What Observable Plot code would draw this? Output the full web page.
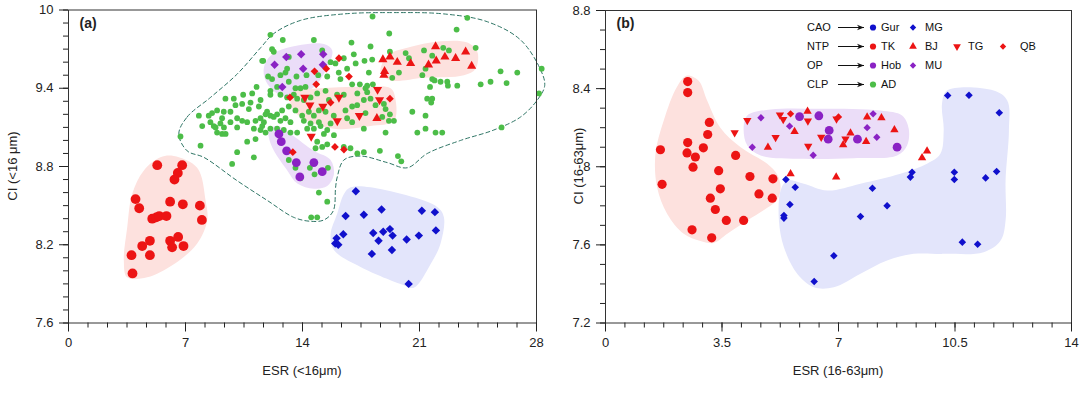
<!DOCTYPE html>
<html><head><meta charset="utf-8">
<script src="https://cdn.jsdelivr.net/npm/d3@7"></script>
<script src="https://cdn.jsdelivr.net/npm/@observablehq/plot@0.6"></script>
<style>
body{margin:0;background:#fff;}
#wrap{position:relative;width:1080px;height:393px;overflow:hidden;font-family:"Liberation Sans",Arial,Helvetica,sans-serif;color:#222;}
#wrap svg{position:absolute;top:0;overflow:visible;}
.lab{position:absolute;font-size:13px;white-space:nowrap;transform:translate(-50%,-50%);}
.rot{transform:translate(-50%,-50%) rotate(-90deg);}
</style></head><body><div id="wrap"></div>
<script>
// ---------------- Panel (a): <16 µm ----------------
const aXTicks = [0, 7, 14, 21, 28];
const aYTicks = [7.6, 8.2, 8.8, 9.4, 10];
const aTK = [[5.31,8.81],[6.80,8.81],[6.54,8.75],[6.34,8.70],[4.01,8.55],[4.23,8.48],[6.08,8.53],[6.84,8.51],[7.86,8.50],[7.98,8.39],[5.01,8.40],[5.25,8.41],[5.43,8.42],[5.86,8.42],[4.87,8.23],[4.41,8.19],[3.77,8.12],[4.87,8.12],[6.08,8.23],[6.56,8.26],[6.20,8.18],[6.88,8.19],[3.83,7.98]];
const aMG = [[17.19,8.61],[16.58,8.42],[17.67,8.43],[18.73,8.47],[21.14,8.46],[21.92,8.45],[16.44,8.28],[16.04,8.25],[15.96,8.21],[16.14,8.20],[18.23,8.29],[18.83,8.30],[19.23,8.32],[19.39,8.27],[18.55,8.23],[20.23,8.24],[20.96,8.27],[21.98,8.31],[18.15,8.13],[19.35,8.16],[20.35,7.90]];
const aHob = [[12.59,9.05],[12.73,8.99],[13.05,8.92],[13.63,8.83],[13.84,8.72],[14.68,8.83],[15.18,8.76]];
const aMU = [[12.33,9.58],[13.03,9.64],[13.92,9.66],[15.24,9.66],[15.22,9.58],[14.04,9.55],[12.79,9.41]];
const aBJ = [[18.81,9.62],[19.23,9.64],[19.67,9.60],[20.47,9.59],[18.91,9.53],[18.87,9.50],[21.54,9.58],[21.96,9.72],[22.00,9.61],[22.52,9.64],[23.16,9.63],[23.76,9.68],[24.12,9.57],[18.45,9.17]];
const aTG = [[18.49,9.39],[18.61,9.31],[17.40,9.19],[14.44,9.27],[15.22,9.26],[16.08,9.15],[16.18,9.33],[14.52,9.03],[14.14,9.33]];
const aQB = [[16.18,9.63],[15.42,9.55],[14.72,9.53],[14.82,9.43],[15.68,9.29],[13.42,8.91],[15.94,8.95],[16.48,8.93],[16.78,9.49],[19.23,9.32],[13.25,9.33]];
const aAD = [[12.08,9.81],[12.82,9.77],[14.68,9.77],[16.93,9.75],[12.18,9.70],[12.28,9.68],[15.18,9.69],[11.65,9.61],[13.18,9.64],[15.97,9.59],[16.47,9.63],[17.07,9.66],
[11.94,9.49],[12.18,9.47],[12.68,9.50],[13.08,9.55],[12.98,9.52],[13.64,9.49],[14.24,9.50],[14.94,9.50],[15.48,9.49],[15.68,9.60],[16.17,9.52],[16.67,9.55],[16.97,9.43],[16.27,9.47],[17.43,9.43],[17.87,9.42],[13.18,9.45],[12.48,9.41],[12.08,9.38],[11.25,9.41],[10.99,9.36],[10.45,9.35],[9.89,9.32],[9.39,9.32],
[13.58,9.40],[13.88,9.40],[14.18,9.41],[13.08,9.33],[12.68,9.35],[12.08,9.35],[11.49,9.31],[10.89,9.29],[10.39,9.28],[9.99,9.27],[9.69,9.22],[9.29,9.22],[8.89,9.23],[8.59,9.21],[8.39,9.19],[9.19,9.17],
[13.48,9.35],[13.68,9.32],[14.08,9.31],[14.48,9.33],[14.88,9.36],[15.38,9.38],[15.58,9.31],[16.07,9.35],[16.47,9.35],[17.27,9.27],[16.97,9.26],[17.67,9.31],
[10.79,9.24],[11.39,9.26],[11.88,9.22],[12.08,9.19],[12.48,9.20],[12.78,9.23],[13.18,9.26],[13.58,9.23],[13.98,9.19],[14.38,9.22],[14.68,9.19],[14.98,9.23],[15.38,9.22],[15.87,9.19],[16.57,9.23],[16.67,9.17],[16.97,9.14],[17.67,9.09],
[15.68,9.13],[14.98,9.14],[14.48,9.13],[14.08,9.15],[13.28,9.14],[12.98,9.17],[12.68,9.15],[12.28,9.18],[11.69,9.14],[11.19,9.15],[10.69,9.14],[10.39,9.15],[10.09,9.17],[9.69,9.14],[9.09,9.13],[8.69,9.11],[8.49,9.14],[8.00,9.11],[7.80,9.19],[8.89,9.06],[9.19,9.05],
[11.09,9.09],[11.49,9.08],[11.79,9.06],[12.08,9.09],[12.48,9.09],[12.88,9.08],[13.28,9.06],[13.68,9.06],[14.28,9.09],[14.68,9.09],[15.08,9.11],[15.48,9.08],[15.28,9.05],[15.88,9.04],
[14.88,8.99],[15.18,8.95],[15.48,8.97],[14.78,8.94],[16.47,8.95],[16.87,8.94],[17.67,8.91],[10.69,8.99],[11.19,9.01],[7.90,8.96],[10.09,8.91],[11.09,8.87],[9.79,8.82],[6.70,9.03],
[18.19,9.95],[23.86,9.94],[23.22,9.85],[19.19,9.82],[18.07,9.72],[19.23,9.68],[20.17,9.67],[21.27,9.69],[18.17,9.62],[20.37,9.63],[21.76,9.65],[22.42,9.71],[22.76,9.69],[24.36,9.71],
[17.18,9.59],[17.97,9.52],[19.77,9.52],[19.37,9.48],[21.17,9.50],[21.36,9.55],[21.76,9.47],[21.90,9.46],[22.26,9.45],[22.66,9.45],[22.70,9.42],[23.26,9.42],[21.63,9.41],[24.66,9.43],[25.25,9.45],[25.85,9.53],[26.21,9.44],[26.85,9.52],
[18.21,9.43],[17.77,9.40],[17.87,9.37],[17.28,9.36],[18.07,9.32],[18.37,9.27],[18.87,9.28],[18.97,9.24],[19.23,9.20],[19.17,9.15],[19.47,9.15],[18.77,9.18],[17.77,9.21],
[21.46,9.32],[21.76,9.32],[21.70,9.29],[20.57,9.22],[21.36,9.19],[21.36,9.09],[20.87,9.06],[21.96,9.06],[22.36,9.06],[18.97,9.06],[25.91,9.10],
[17.28,8.90],[18.63,8.92],[19.71,8.88],[19.91,8.84],[28.31,9.55],[28.15,9.36],
[14.98,8.60],[15.48,8.53],[14.52,8.41],[14.88,8.41],[13.18,8.85],[13.58,8.79],[14.44,8.79],[14.72,8.74],[15.52,8.79],[13.88,8.71],
[11.59,9.61],[17.71,9.61],[8.80,9.10],[9.30,9.10],[9.40,9.05],[10.09,9.10],[11.59,9.11],[11.49,9.17],[11.79,9.20]];
// shaded regions (outlines) and the dashed AD envelope
const aBlobTK = [[5.50,8.87],[6.30,8.88],[7.70,8.79],[8.20,8.54],[8.30,8.39],[7.70,8.21],[6.30,8.05],[4.71,7.95],[3.51,7.95],[3.31,8.08],[3.51,8.33],[3.81,8.59],[4.51,8.77]];
const aBlobMG = [[16.48,8.59],[16.88,8.64],[18.07,8.64],[22.06,8.49],[22.46,8.41],[22.26,8.21],[21.66,8.05],[20.66,7.87],[20.07,7.89],[17.47,8.03],[15.88,8.16],[15.68,8.28],[16.08,8.44]];
const aBlobMU = [[11.69,9.56],[12.09,9.65],[13.09,9.71],[15.28,9.74],[15.78,9.69],[15.48,9.56],[14.68,9.41],[13.48,9.33],[12.49,9.36],[11.79,9.46]];
const aBlobHob = [[11.99,9.08],[12.49,9.11],[13.29,9.05],[14.68,8.92],[15.68,8.85],[15.88,8.74],[15.48,8.65],[14.68,8.63],[13.69,8.67],[13.09,8.77],[12.29,8.92],[11.99,9.02]];
const aBlobBJ = [[18.67,9.52],[19.07,9.65],[20.27,9.71],[22.26,9.76],[23.86,9.75],[24.46,9.68],[24.36,9.55],[23.66,9.50],[21.26,9.48],[19.27,9.46]];
const aBlobTG = [[13.48,9.37],[15.08,9.40],[17.47,9.41],[19.27,9.40],[19.57,9.31],[19.47,9.15],[18.07,9.11],[15.88,9.09],[13.88,9.18],[13.29,9.28]];
const aEnvelope = [[6.60,9.05],[7.10,9.18],[8.50,9.33],[10.10,9.51],[11.49,9.71],[12.29,9.82],[13.88,9.92],[16.48,9.97],[19.47,9.98],[22.46,9.97],[25.06,9.91],[27.05,9.77],[28.25,9.54],[28.49,9.42],[28.05,9.31],[27.05,9.18],[25.45,9.08],[23.46,9.00],[21.47,8.90],[20.27,8.79],[19.07,8.83],[17.47,8.88],[16.48,8.85],[16.08,8.72],[15.98,8.64],[15.84,8.46],[15.28,8.39],[14.48,8.38],[13.48,8.41],[11.89,8.54],[10.10,8.69],[8.10,8.87],[7.10,8.92]];

// ---------------- Panel (b): 16-63 µm ----------------
const bXTicks = [0, 3.5, 7, 10.5, 14];
const bYTicks = [7.2, 7.6, 8, 8.4, 8.8];
const bTK = [[2.47,8.436],[2.47,8.38],[3.12,8.227],[3.07,8.165],[2.47,8.124],[1.65,8.087],[2.45,8.071],[2.94,8.097],[2.70,8.05],[2.63,7.998],[3.40,7.98],[3.91,8.058],[1.70,7.91],[4.34,7.95],[5.03,7.938],[3.45,7.887],[3.15,7.839],[4.61,7.861],[5.01,7.839],[3.30,7.781],[3.63,7.725],[4.15,7.725],[2.60,7.677],[3.19,7.636]];
const bMG = [[10.28,8.365],[10.92,8.366],[11.83,8.276],[5.42,7.935],[5.70,7.895],[5.54,7.807],[5.36,7.75],[5.36,7.737],[8.02,7.89],[8.46,7.80],[7.66,7.745],[9.21,7.972],[9.16,7.947],[10.48,7.972],[10.48,7.935],[11.42,7.943],[11.75,7.976],[10.72,7.614],[11.18,7.603],[6.86,7.544],[6.27,7.412]];
const bHob = [[5.83,8.257],[6.41,8.261],[6.72,8.186],[6.69,8.141],[7.57,8.141],[8.76,8.10]];
const bMU = [[4.67,8.251],[4.41,8.10],[5.53,8.208],[6.24,8.059],[8.04,8.271],[7.86,8.20],[8.15,8.151]];
const bBJ = [[6.07,8.284],[5.68,8.18],[4.88,8.10],[7.36,8.172],[7.14,8.112],[7.83,8.129],[7.86,8.254],[8.29,8.251],[8.68,8.189],[5.56,7.964],[6.93,7.947],[9.51,8.046],[9.66,8.08]];
const bTG = [[4.26,8.237],[3.88,8.174],[5.11,8.15],[5.24,8.266],[5.34,8.242],[6.08,8.235],[6.09,8.105],[6.48,8.151],[6.94,8.245],[7.21,8.143]];
const bQB = [[5.56,8.271],[7.00,8.255]];
const bBlobTK = [[2.45,8.467],[2.80,8.44],[3.05,8.34],[3.45,8.20],[4.06,8.10],[4.86,8.015],[5.16,7.96],[5.26,7.895],[5.16,7.83],[4.86,7.79],[4.26,7.725],[3.66,7.657],[3.25,7.61],[2.85,7.62],[2.35,7.657],[1.85,7.76],[1.55,7.895],[1.50,8.066],[1.75,8.237],[2.15,8.41]];
const bBlobOP = [[4.15,8.194],[4.26,8.262],[4.96,8.293],[6.46,8.297],[8.26,8.288],[8.91,8.262],[9.11,8.194],[9.06,8.109],[8.76,8.058],[7.46,8.044],[5.96,8.041],[4.66,8.058],[4.26,8.109]];
const bBlobMG = [[10.11,8.322],[10.26,8.39],[11.66,8.39],[12.07,8.339],[12.12,8.186],[12.02,7.93],[12.02,7.725],[11.87,7.622],[11.36,7.562],[10.16,7.554],[9.26,7.554],[8.46,7.52],[7.66,7.452],[6.86,7.383],[6.26,7.383],[5.76,7.452],[5.36,7.588],[5.21,7.725],[5.26,7.878],[5.46,7.93],[5.96,7.913],[6.66,7.878],[7.66,7.913],[8.86,7.964],[9.66,8.015],[10.06,8.066],[10.16,8.186]];

// legend content
const legendGroups = ["CAO", "NTP", "OP", "CLP"];
const legendItems = [
  [["Gur", "circle", "blue"], ["MG", "diamond", "blue"]],
  [["TK", "circle", "red"], ["BJ", "triangle", "red"], ["TG", "triangleDown", "red"], ["QB", "diamond", "red"]],
  [["Hob", "circle", "purple"], ["MU", "diamond", "purple"]],
  [["AD", "circle", "green"]]
];

// ---------------- styling ----------------
const C = {red: "#ec1414", blue: "#1010cc", purple: "#8a22c4", green: "#4cbd48"};
const BLOB = {red: "#fde1de", blue: "#e3e5fb", purple: "#ebddf8"};
const FONT = '"Liberation Sans", Arial, Helvetica, sans-serif';
const triangleDown = {draw(ctx, size) {
  const s3 = Math.sqrt(3), y = Math.sqrt(size / (s3 * 3));
  ctx.moveTo(0, 2 * y); ctx.lineTo(-s3 * y, -y); ctx.lineTo(s3 * y, -y); ctx.closePath();
}};
const SYM = {circle: "circle", diamond: "diamond2", triangle: "triangle", triangleDown};
const px = d => d[0], py = d => d[1];

const blob = (data, fill) => Plot.line(data, {x: px, y: py, curve: "catmull-rom-closed", fill, stroke: "none"});
const pts = (data, sym, color, r) => Plot.dot(data, {x: px, y: py, symbol: SYM[sym], r, fill: C[color], stroke: "none"});

function panel(cfg) {
  return Plot.plot({
    width: cfg.width, height: 393,
    marginLeft: cfg.ml, marginRight: cfg.mr, marginTop: cfg.mt, marginBottom: 393 - 322.5,
    x: {domain: cfg.xDomain},
    y: {domain: cfg.yDomain},
    style: {fontFamily: FONT, fontSize: "13px", color: "#222", background: "transparent", overflow: "visible"},
    marks: [
      ...cfg.marks,
      Plot.frame({stroke: "#333", strokeWidth: 1}),
      Plot.axisX({ticks: cfg.xMinor, tickSize: 5, tickFormat: () => "", label: null}),
      Plot.axisX({ticks: cfg.xTicks, tickSize: 9, tickPadding: 6, tickFormat: d => String(d), label: null}),
      Plot.axisY({ticks: cfg.yMinor, tickSize: 5, tickFormat: () => "", label: null}),
      Plot.axisY({ticks: cfg.yTicks, tickSize: 9, tickPadding: 6, tickFormat: d => String(d), label: null}),
      Plot.text([cfg.tag], {frameAnchor: "top-left", dx: 11, dy: 8, fontWeight: "bold", fontSize: 14, textAnchor: "start", lineAnchor: "top"})
    ]
  });
}

const wrap = document.getElementById("wrap");

const plotA = panel({
  width: 556, ml: 68, mr: 20, mt: 9.5,
  xDomain: [0, 28], yDomain: [7.6, 10],
  xTicks: aXTicks, yTicks: aYTicks,
  xMinor: d3.range(0, 25).map(i => i * 7 / 6),
  yMinor: d3.range(0, 25).map(i => 7.6 + i * 0.1),
  tag: "(a)",
  marks: [
    blob(aBlobTK, BLOB.red), blob(aBlobMG, BLOB.blue), blob(aBlobMU, BLOB.purple), blob(aBlobHob, BLOB.purple),
    blob(aBlobBJ, BLOB.red), blob(aBlobTG, BLOB.red),
    Plot.line(aEnvelope, {x: px, y: py, curve: "catmull-rom-closed", stroke: "#2e7565", strokeWidth: 1, strokeDasharray: "4,3"}),
    pts(aAD, "circle", "green", 2.9),
    pts(aTK, "circle", "red", 4.9),
    pts(aMG, "diamond", "blue", 3.8),
    pts(aHob, "circle", "purple", 4.4),
    pts(aMU, "diamond", "purple", 3.8),
    pts(aBJ, "triangle", "red", 3.4),
    pts(aTG, "triangleDown", "red", 3.4),
    pts(aQB, "diamond", "red", 3.5)
  ]
});
plotA.style.left = "0px";
wrap.appendChild(plotA);

const plotB = panel({
  width: 524, ml: 49, mr: 9, mt: 10,
  xDomain: [0, 14], yDomain: [7.2, 8.8],
  xTicks: bXTicks, yTicks: bYTicks,
  xMinor: d3.range(0, 25).map(i => i * 3.5 / 6),
  yMinor: d3.range(0, 17).map(i => 7.2 + i * 0.1),
  tag: "(b)",
  marks: [
    blob(bBlobTK, BLOB.red), blob(bBlobMG, BLOB.blue), blob(bBlobOP, BLOB.purple),
    pts(bTK, "circle", "red", 4.6),
    pts(bMG, "diamond", "blue", 3.4),
    pts(bHob, "circle", "purple", 4.4),
    pts(bMU, "diamond", "purple", 3.3),
    pts(bBJ, "triangle", "red", 3.1),
    pts(bTG, "triangleDown", "red", 3.1),
    pts(bQB, "diamond", "red", 3.3)
  ]
});
plotB.style.left = "556px";
wrap.appendChild(plotB);

// axis titles
function addLabel(html, x, y, rotate) {
  const d = document.createElement("div");
  d.className = "lab" + (rotate ? " rot" : "");
  d.innerHTML = html;
  d.style.left = x + "px"; d.style.top = y + "px";
  wrap.appendChild(d);
}
addLabel("ESR (&lt;16μm)", 302, 370, false);
addLabel("CI (&lt;16 μm)", 12, 166, true);
addLabel("ESR (16-63μm)", 838, 370, false);
addLabel("CI (16-63μm)", 578, 166, true);

// legend (panel b, top right)
const lg = d3.select(wrap).append("svg").attr("width", 1080).attr("height", 393).style("left", "0px").style("pointer-events", "none")
  .style("font-family", FONT).style("font-size", "11px");
lg.append("defs").append("marker").attr("id", "ah").attr("viewBox", "0 0 10 10").attr("refX", 10).attr("refY", 5)
  .attr("markerWidth", 7).attr("markerHeight", 7).attr("orient", "auto")
  .append("path").attr("d", "M0,1 L10,5 L0,9 L3,5 Z").attr("fill", "#111");
const d3sym = {circle: d3.symbolCircle, diamond: d3.symbolDiamond2, triangle: d3.symbolTriangle, triangleDown};
const markX = [873, 913, 957, 1003], textX = [881, 925, 968, 1020];
legendGroups.forEach((g, i) => {
  const y = 27.5 + i * 19;
  lg.append("text").attr("x", 807).attr("y", y).attr("dy", "0.35em").attr("fill", "#111").text(g);
  lg.append("line").attr("x1", 838).attr("x2", 864).attr("y1", y).attr("y2", y).attr("stroke", "#111").attr("stroke-width", 1).attr("marker-end", "url(#ah)");
  legendItems[i].forEach(([name, sym, col], j) => {
    lg.append("path").attr("transform", `translate(${markX[j]},${y})`)
      .attr("d", d3.symbol(d3sym[sym], sym === "circle" ? 30 : 26)()).attr("fill", C[col]);
    lg.append("text").attr("x", textX[j]).attr("y", y).attr("dy", "0.35em").attr("fill", "#111").text(name);
  });
});
</script></body></html>
